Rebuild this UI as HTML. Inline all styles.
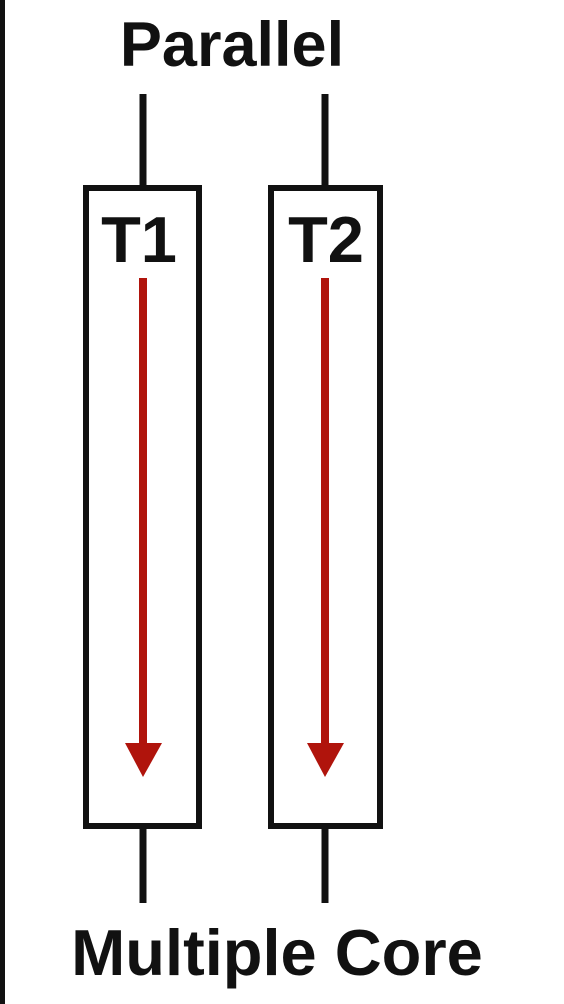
<!DOCTYPE html>
<html><head><meta charset="utf-8"><style>
html,body{margin:0;padding:0;background:#fff;width:564px;height:1004px;overflow:hidden}
svg{display:block}
text{font-family:"Liberation Sans",Arial,sans-serif;font-weight:bold;fill:#111}
</style></head><body>
<svg width="564" height="1004" viewBox="0 0 564 1004">
<rect x="0" y="0" width="5" height="1004" fill="#111"/>
<text x="232" y="66" font-size="63" text-anchor="middle">Parallel</text>
<g>
<line x1="143" y1="94" x2="143" y2="188" stroke="#111" stroke-width="7"/>
<rect x="86" y="188" width="113" height="638" fill="none" stroke="#111" stroke-width="6"/>
<line x1="143" y1="826" x2="143" y2="903" stroke="#111" stroke-width="7"/>
<text x="139" y="262" font-size="65" text-anchor="middle">T1</text>
<line x1="143" y1="278" x2="143" y2="750" stroke="#b0140c" stroke-width="8"/>
<polygon points="125,743 162,743 143,777" fill="#b0140c"/>
</g>
<g>
<line x1="325" y1="94" x2="325" y2="188" stroke="#111" stroke-width="7"/>
<rect x="271" y="188" width="109" height="638" fill="none" stroke="#111" stroke-width="6"/>
<line x1="325" y1="826" x2="325" y2="903" stroke="#111" stroke-width="7"/>
<text x="326" y="262" font-size="65" text-anchor="middle">T2</text>
<line x1="325" y1="278" x2="325" y2="750" stroke="#b0140c" stroke-width="8"/>
<polygon points="307,743 344,743 325,777" fill="#b0140c"/>
</g>
<text x="277" y="975" font-size="65" text-anchor="middle">Multiple Core</text>
</svg>
</body></html>
